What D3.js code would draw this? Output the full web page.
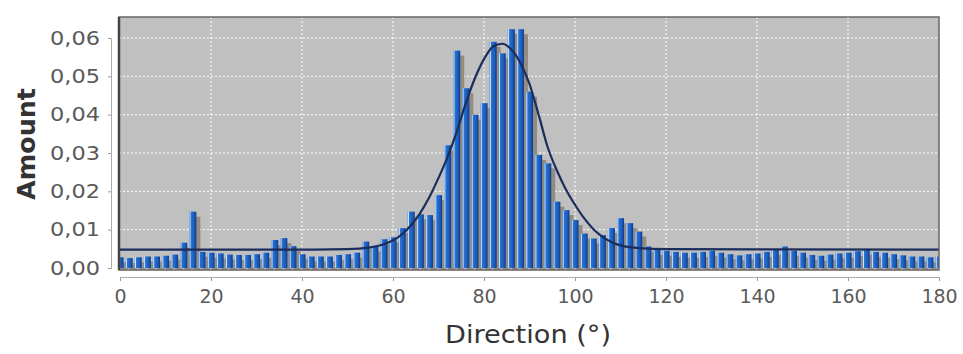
<!DOCTYPE html>
<html>
<head>
<meta charset="utf-8">
<script src="https://cdn.jsdelivr.net/npm/d3@7"></script>
<style>
  body { margin: 0; background: #fff; }
  text { font-family: "DejaVu Sans", sans-serif; }
</style>
</head>
<body>
<div id="chart"></div>
<script>
// histogram bins (centre in degrees) and their amounts
var binCenters = d3.range(0, 181, 2);
var amounts = [
  0.0028, 0.0026, 0.0028, 0.0030, 0.0030, 0.0032, 0.0035, 0.0066, 0.0147, 0.0042,
  0.0040, 0.0038, 0.0035, 0.0034, 0.0034, 0.0036, 0.0040, 0.0073, 0.0078, 0.0057,
  0.0036, 0.0030, 0.0030, 0.0030, 0.0034, 0.0036, 0.0040, 0.0069, 0.0056, 0.0075,
  0.0080, 0.0104, 0.0147, 0.0140, 0.0138, 0.0190, 0.0320, 0.0567, 0.0469, 0.0400,
  0.0430, 0.0590, 0.0560, 0.0623, 0.0623, 0.0460, 0.0295, 0.0273, 0.0173, 0.0151,
  0.0125, 0.0090, 0.0077, 0.0086, 0.0104, 0.0130, 0.0117, 0.0095, 0.0056, 0.0047,
  0.0045, 0.0042, 0.0040, 0.0040, 0.0042, 0.0045, 0.0040, 0.0036, 0.0033, 0.0036,
  0.0038, 0.0042, 0.0048, 0.0056, 0.0045, 0.0040, 0.0034, 0.0032, 0.0035, 0.0038,
  0.0040, 0.0044, 0.0048, 0.0042, 0.0040, 0.0036, 0.0033, 0.0030, 0.0030, 0.0028,
  0.0030
];

// gaussian fit curve
var fitX = [0, 40, 50, 55, 58, 60, 62, 64, 66, 68, 70, 72, 74, 76, 78, 80, 82, 84, 86, 88,
            90, 92, 94, 96, 98, 100, 102, 104, 106, 108, 110, 114, 120, 180];
var fitY = [0.0048, 0.0048, 0.0049, 0.0054, 0.0062, 0.0072, 0.0088, 0.0112, 0.0144, 0.0185,
            0.0235, 0.0290, 0.0355, 0.0430, 0.0495, 0.0545, 0.0578, 0.0585, 0.0570, 0.0535,
            0.0480, 0.0400, 0.0315, 0.0255, 0.0205, 0.0165, 0.0130, 0.0102, 0.0082, 0.0068,
            0.0059, 0.0052, 0.0049, 0.0048];

var xTicks = d3.range(0, 181, 20);
var yTicks = [0, 0.01, 0.02, 0.03, 0.04, 0.05, 0.06];

var W = 963, H = 354;
var plot = {left: 119, right: 939, top: 17, bottom: 270};

var svg = d3.select("#chart").append("svg")
    .attr("width", W)
    .attr("height", H);

var x = d3.scaleLinear().domain([0, 180]).range([120, 939]);
var y = d3.scaleLinear().domain([0, 0.06]).range([268, 38]);

var defs = svg.append("defs");
defs.append("clipPath").attr("id", "clip")
  .append("rect")
    .attr("x", plot.left).attr("y", plot.top)
    .attr("width", plot.right - plot.left)
    .attr("height", plot.bottom - plot.top);

var grad = defs.append("linearGradient").attr("id", "barGrad")
    .attr("x1", "0%").attr("x2", "100%").attr("y1", "0%").attr("y2", "0%");
[["0%", "#4f8ee0"], ["12%", "#c9e2ff"], ["26%", "#2b72d0"],
 ["70%", "#1a5bbb"], ["100%", "#0c3a82"]].forEach(function(s) {
  grad.append("stop").attr("offset", s[0]).attr("stop-color", s[1]);
});

// plot background
svg.append("rect")
    .attr("x", plot.left).attr("y", plot.top)
    .attr("width", plot.right - plot.left)
    .attr("height", plot.bottom - plot.top)
    .attr("fill", "#c0c0c0");

// gridlines
var grid = svg.append("g").attr("clip-path", "url(#clip)");
grid.selectAll(".vg").data(xTicks.slice(1, -1)).enter().append("line")
    .attr("x1", function(d) { return x(d); })
    .attr("x2", function(d) { return x(d); })
    .attr("y1", plot.top).attr("y2", plot.bottom)
    .attr("stroke", "#ffffff").attr("stroke-width", 1)
    .attr("stroke-dasharray", "2,2");
grid.selectAll(".hg").data(yTicks.slice(1)).enter().append("line")
    .attr("y1", function(d) { return y(d); })
    .attr("y2", function(d) { return y(d); })
    .attr("x1", plot.left).attr("x2", plot.right)
    .attr("stroke", "#ffffff").attr("stroke-width", 1)
    .attr("stroke-dasharray", "2,2");

var binW = x(2) - x(0);
var barW = binW * 0.78;
var bars = svg.append("g").attr("clip-path", "url(#clip)");

// shadows first
bars.selectAll(".shadow").data(amounts).enter().append("rect")
    .attr("x", function(d, i) { return x(binCenters[i]) - barW / 2 + 4; })
    .attr("y", function(d) { return y(d) + 5; })
    .attr("width", barW)
    .attr("height", function(d) { return Math.max(0, y(0) - y(d)); })
    .attr("fill", "#948c82");

bars.selectAll(".bar").data(amounts).enter().append("rect")
    .attr("x", function(d, i) { return x(binCenters[i]) - barW / 2; })
    .attr("y", function(d) { return y(d); })
    .attr("width", barW)
    .attr("height", function(d) { return y(0) - y(d); })
    .attr("fill", "url(#barGrad)");

// fit curve
var fit = fitX.map(function(v, i) { return [v, fitY[i]]; });
bars.append("path")
    .datum(fit)
    .attr("fill", "none")
    .attr("stroke", "#1b2d5c")
    .attr("stroke-width", 2.2)
    .attr("d", d3.line()
      .x(function(d) { return x(d[0]); })
      .y(function(d) { return y(d[1]); })
      .curve(d3.curveMonotoneX));

// plot border
svg.append("rect")
    .attr("x", plot.left).attr("y", plot.top)
    .attr("width", plot.right - plot.left)
    .attr("height", plot.bottom - plot.top)
    .attr("fill", "none")
    .attr("stroke", "#666").attr("stroke-width", 1.5);
svg.append("line")
    .attr("x1", plot.left).attr("x2", plot.left)
    .attr("y1", plot.top).attr("y2", plot.bottom)
    .attr("stroke", "#444").attr("stroke-width", 2.5);

// axes
var fmt = function(d) { return d3.format(".2f")(d).replace(".", ","); };
var yAxis = svg.append("g")
    .attr("transform", "translate(111,0)")
    .call(d3.axisLeft(y).tickValues(yTicks).tickFormat(fmt).tickSize(3).tickPadding(8));
var xAxis = svg.append("g")
    .attr("transform", "translate(0,277)")
    .call(d3.axisBottom(x).tickValues(xTicks).tickSize(4).tickPadding(9));

[yAxis, xAxis].forEach(function(a) {
  a.select(".domain").attr("stroke", "#aaa");
  a.selectAll(".tick line").attr("stroke", "#999");
  a.selectAll("text").attr("fill", "#5a5a5a").style("font-size", "19px")
    .style("font-family", "DejaVu Sans, sans-serif");
});
yAxis.selectAll("text").attr("textLength", 50).attr("lengthAdjust", "spacingAndGlyphs");

svg.append("text")
    .attr("x", 528).attr("y", 343)
    .attr("text-anchor", "middle")
    .attr("fill", "#333")
    .style("font-size", "25px")
    .attr("textLength", 166).attr("lengthAdjust", "spacingAndGlyphs")
    .text("Direction (°)");

svg.append("text")
    .attr("transform", "translate(35,144) rotate(-90)")
    .attr("text-anchor", "middle")
    .attr("fill", "#333")
    .style("font-size", "25px")
    .style("font-weight", "bold")
    .attr("textLength", 112).attr("lengthAdjust", "spacingAndGlyphs")
    .text("Amount");
</script>
</body>
</html>
